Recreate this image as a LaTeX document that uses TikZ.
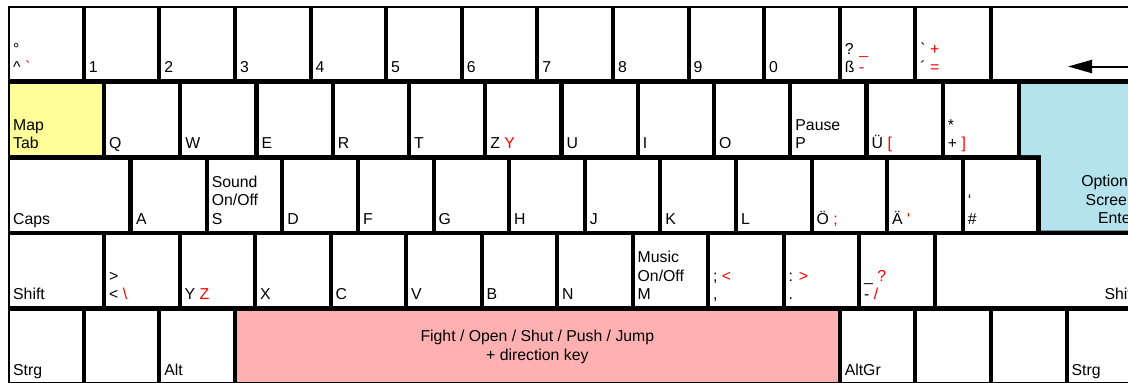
\documentclass[tikz,border=0pt]{standalone}
\usepackage{fontspec}
\setmainfont{Liberation Sans}
\usetikzlibrary{arrows.meta}

\definecolor{mapyellow}{RGB}{255,255,153}
\definecolor{optblue}{RGB}{180,226,237}
\definecolor{movepink}{RGB}{255,176,176}
\newcommand{\uskey}[1]{\textcolor{red}{#1}}

\begin{document}
\begin{tikzpicture}[x=1bp, y=-1bp, font=\fontsize{15.8bp}{18.5bp}\selectfont,
  keybox/.style={fill=white, inner sep=0pt, anchor=north west,
                 minimum width=71.5bp, minimum height=71bp},
  keylabel/.style={inner sep=0pt, anchor=south west, align=left,
                   text depth=0pt, xshift=3bp, yshift=6.5bp},
  keylabelright/.style={inner sep=0pt, anchor=south east, align=right,
                        text depth=0pt, xshift=-4bp, yshift=6.5bp}]

  \useasboundingbox (0,0) rectangle (1128,382);
  \clip (0,0) rectangle (1128,382);

  % ---------- keyboard frame ----------
  \fill[black] (8,6) rectangle (1145,390);

  % ---------- row 1: number keys ----------
  \node[keybox] (circ) at (10,8) {};
  \node[keylabel] (circlabel) at (circ.south west)
        {°\\\textasciicircum{} \uskey{\textasciigrave}};
  \foreach \lbl [count=\i] in {1,2,3,4,5,6,7,8,9,0}{
    \node[keybox] (num\i) at ({10+75.6*\i},8) {};
    \node[keylabel] (numlabel\i) at (num\i.south west) {\lbl};
  }
  \node[keybox] (szkey) at (841.6,8) {};
  \node[keylabel] (szlabel) at (szkey.south west) {? \uskey{\_}\\ß \uskey{-}};
  \node[keybox] (acutekey) at (917.2,8) {};
  \node[keylabel] (acutelabel) at (acutekey.south west)
        {\textasciigrave{} \uskey{+}\\´ \uskey{=}};
  \node[keybox, minimum width=160bp] (backspace) at (992.8,8) {};
  \coordinate (arrowtail) at (1140,66.5);
  \coordinate (arrowtip) at (1068,66.5);
  \draw[line width=2bp, -{Triangle[length=24bp, width=13bp]}] (arrowtail) -- (arrowtip);

  % ---------- row 2: Q row ----------
  \node[keybox, minimum width=92bp, fill=mapyellow] (tabkey) at (10,84) {};
  \node[keylabel] (tablabel) at (tabkey.south west) {Map\\Tab};
  \foreach \lbl [count=\i from 0] in {Q,W,E,R,T,{Z \uskey{Y}},U,I,O,{Pause\\P},
                                      {Ü \uskey{[}},{*\\+ \uskey{]}}}{
    \node[keybox, minimum width=72bp] (top\i) at ({106+76.25*\i},84) {};
    \node[keylabel] (toplabel\i) at (top\i.south west) {\lbl};
  }

  % ---------- enter key ----------
  \fill[optblue] (1021,84) -- (1145,84) -- (1145,230.5) -- (1041,230.5)
                 -- (1041,155) -- (1021,155) -- cycle;
  \coordinate (enterfoot) at (1140,230.5);
  \node[keylabelright] (enterlabel) at (enterfoot) {Options\\Screen\\Enter};

  % ---------- row 3: home row ----------
  \node[keybox, minimum width=118bp] (capskey) at (10,159.5) {};
  \node[keylabel] (capslabel) at (capskey.south west) {Caps};
  \foreach \lbl [count=\i from 0] in {A,{Sound\\On/Off\\S},D,F,G,H,J,K,L,
                                      {Ö \uskey{;}},{Ä \uskey{\textquotesingle}},{‘\\\#}}{
    \node[keybox] (home\i) at ({133+75.6*\i},159.5) {};
    \node[keylabel] (homelabel\i) at (home\i.south west) {\lbl};
  }

  % ---------- row 4: shift row ----------
  \node[keybox, minimum width=92bp] (lshift) at (10,235) {};
  \node[keylabel] (lshiftlabel) at (lshift.south west) {Shift};
  \foreach \lbl [count=\i from 0] in {{>\\< \uskey{\textbackslash}},{Y \uskey{Z}},X,C,V,B,N,
                                      {Music\\On/Off\\M},{; \uskey{<}\\,},{: \uskey{>}\\.},
                                      {\_ \uskey{?}\\- \uskey{/}}}{
    \node[keybox] (low\i) at ({106+75.5*\i},235) {};
    \node[keylabel] (lowlabel\i) at (low\i.south west) {\lbl};
  }
  \node[keybox, minimum width=203bp] (rshift) at (937,235) {};
  \node[keylabelright] (rshiftlabel) at (rshift.south east) {Shift};

  % ---------- row 5: space row ----------
  \node[keybox] (lctrl) at (10,311) {};
  \node[keylabel] (lctrllabel) at (lctrl.south west) {Strg};
  \node[keybox] (lwin) at (85.6,311) {};
  \node[keybox] (lalt) at (161.2,311) {};
  \node[keylabel] (laltlabel) at (lalt.south west) {Alt};
  \node[keybox, minimum width=600.7bp, fill=movepink] (spacebar) at (236.8,311) {};
  \node[align=center, inner sep=0pt] (spacelabel) at (spacebar.center)
        {Fight / Open / Shut / Push / Jump\\+ direction key};
  \node[keybox] (altgr) at (841.6,311) {};
  \node[keylabel] (altgrlabel) at (altgr.south west) {AltGr};
  \node[keybox] (rwin) at (917.2,311) {};
  \node[keybox] (menukey) at (992.8,311) {};
  \node[keybox, minimum width=80bp] (rctrl) at (1068.4,311) {};
  \node[keylabel] (rctrllabel) at (rctrl.south west) {Strg};

\end{tikzpicture}
\end{document}
